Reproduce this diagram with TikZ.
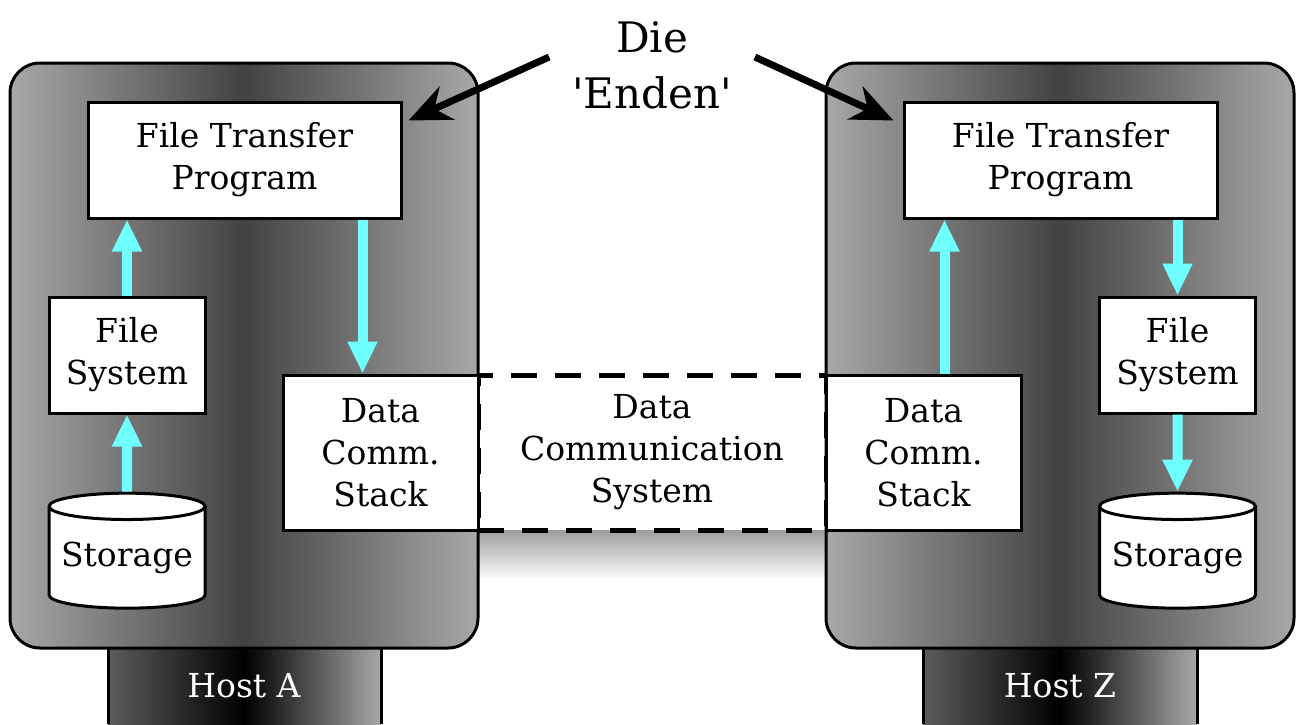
\documentclass[tikz,border=0pt]{standalone}
\usepackage{fontspec}
\setmainfont{DejaVu Serif}
\usetikzlibrary{shapes,arrows.meta,positioning,calc}
\definecolor{flow}{RGB}{112,255,255}
\definecolor{hostedge}{RGB}{168,168,168}
\definecolor{hostmid}{RGB}{66,66,66}
\definecolor{stemedge}{RGB}{92,92,92}
\tikzset{
  box/.style={draw, line width=1.5pt, fill=white, align=center, inner sep=0pt,
    font=\fontsize{16.5}{21}\selectfont},
  store/.style={box, cylinder, shape border rotate=90, aspect=0.2,
    minimum width=78pt, minimum height=57.5pt},
  hostbox/.style={draw, line width=1.5pt, rounded corners=15pt,
    left color=hostedge, right color=hostedge, middle color=hostmid,
    minimum width=234pt, minimum height=292.5pt},
  stem/.style={line width=1.5pt, left color=stemedge, right color=hostedge, middle color=black},
  hostname/.style={text=white, font=\fontsize{16.5}{21}\selectfont},
  flowarrow/.style={flow, line width=5pt, -{Triangle[width=14pt,length=16pt]}},
  pointer/.style={line width=3.5pt, -{Stealth[length=21pt,width=18pt]}},
}
\begin{document}
\begin{tikzpicture}[x=0.5pt,y=-0.5pt]
\useasboundingbox (0,0) rectangle (1296,724);
\shade[top color=gray!80, bottom color=white] (478,528) rectangle (826,580);
\node[box, dash pattern=on 13pt off 9pt, line width=2.5pt,
  minimum width=174pt, minimum height=77.5pt] (dcs) at (652,452.5) {Data\\Communication\\System};
\draw[stem] (108,724) -- (108,640) -- (381,640) -- (381,724);
\draw[stem] (923,724) -- (923,640) -- (1197,640) -- (1197,724);
\node[hostbox] (hostA) at (244,355.5) {};
\node[hostbox] (hostZ) at (1060,355.5) {};
\node[hostname] (nameA) at (244,686) {Host A};
\node[hostname] (nameZ) at (1060,686) {Host Z};
\node[box, minimum width=156.5pt, minimum height=58pt] (ftpA) at (244.5,160) {File Transfer\\Program};
\node[box, minimum width=78pt, minimum height=58pt] (fsA) at (127,355) {File\\System};
\node[store] (stA) at (127,558) {Storage};
\node[box, minimum width=97.5pt, minimum height=77.5pt] (dcsA) at (380.5,452.5) {Data\\Comm.\\Stack};
\node[box, minimum width=156.5pt, minimum height=58pt] (ftpZ) at (1060.5,160) {File Transfer\\Program};
\node[box, minimum width=78pt, minimum height=58pt] (fsZ) at (1177.5,355) {File\\System};
\node[store] (stZ) at (1177.5,558) {Storage};
\node[box, minimum width=97.5pt, minimum height=77.5pt] (dcsZ) at (923.5,452.5) {Data\\Comm.\\Stack};
\draw[flowarrow] (stA) -- (fsA);
\draw[flowarrow] (fsA) -- (fsA.north |- ftpA.south);
\draw[flowarrow] ([xshift=-20pt]ftpA.south east) -- ([xshift=-20pt]ftpA.south east |- dcsA.north);
\draw[flowarrow] ([xshift=21pt]ftpZ.south west |- dcsZ.north) -- ([xshift=21pt]ftpZ.south west);
\draw[flowarrow] (ftpZ.south -| fsZ.north) -- (fsZ.north);
\draw[flowarrow] (fsZ) -- (stZ);
\node[align=center, font=\fontsize{21}{28}\selectfont] (ends) at (652,65) {Die\\\textquotesingle Enden\textquotesingle};
\draw[pointer] ([shift={(-8pt,4pt)}]ends.west) -- ([shift={(3pt,-10pt)}]ftpA.north east);
\draw[pointer] ([shift={(8pt,4pt)}]ends.east) -- ([shift={(-4.5pt,-10pt)}]ftpZ.north west);
\end{tikzpicture}
\end{document}
